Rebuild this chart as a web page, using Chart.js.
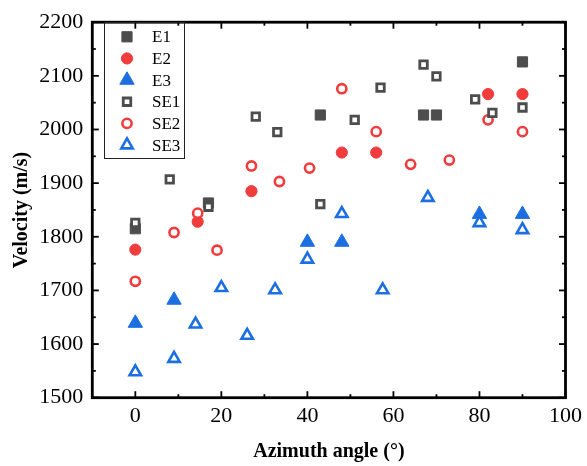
<!DOCTYPE html>
<html><head><meta charset="utf-8">
<script src="https://cdn.jsdelivr.net/npm/chart.js@4/dist/chart.umd.min.js"></script>
<style>html,body{margin:0;padding:0;background:#fff}</style>
</head><body>
<canvas id="c" width="587" height="466" style="width:587px;height:466px;display:block"></canvas>
<script>
const xTicks = [0, 20, 40, 60, 80, 100];
const yTicks = [1500, 1600, 1700, 1800, 1900, 2000, 2100, 2200];
const xMinor = [10, 30, 50, 70, 90];
const yMinor = [1550, 1650, 1750, 1850, 1950, 2050, 2150];

const E1_x = [0, 17, 43, 67, 70, 90];
const E1_y = [1815, 1863, 2027, 2027, 2027, 2126];
const E2_x = [0, 14.5, 27, 48, 56, 82, 90];
const E2_y = [1776, 1828, 1885, 1957, 1957, 2066, 2066];
const E3_x = [0, 9, 40, 48, 80, 90];
const E3_y = [1639, 1682, 1790, 1790, 1842, 1842];
const SE1_x = [0, 8, 17, 28, 33, 43, 51, 57, 67, 70, 79, 83, 90];
const SE1_y = [1826, 1907, 1856, 2024, 1995, 1861, 2018, 2078, 2121, 2099, 2056, 2031, 2041];
const SE2_x = [0, 9, 14.5, 19, 27, 33.5, 40.5, 48, 56, 64, 73, 82, 90];
const SE2_y = [1717, 1808, 1844, 1775, 1932, 1903, 1928, 2076, 1996, 1935, 1943, 2018, 1996];
const SE3_x = [0, 9, 14, 20, 26, 32.5, 40, 48, 57.5, 68, 80, 90];
const SE3_y = [1548, 1573, 1637, 1705, 1616, 1701, 1758, 1843, 1701, 1873, 1826, 1813];

const GRAY = '#4d4d4d', RED = '#f03c3c', BLUE = '#1c6fe0';
const FONT = 'Liberation Serif';

function pts(xs, ys) { return xs.map((x, i) => ({x: x, y: ys[i]})); }

const datasets = [
  {label: 'E1', data: pts(E1_x, E1_y), pointStyle: 'rect', pointRadius: 7.2, backgroundColor: GRAY, borderColor: GRAY, borderWidth: 1, order: 1},
  {label: 'E2', data: pts(E2_x, E2_y), pointStyle: 'circle', pointRadius: 5.6, backgroundColor: RED, borderColor: RED, borderWidth: 1, order: 1},
  {label: 'E3', data: pts(E3_x, E3_y), pointStyle: 'triangle', pointRadius: 8.3, backgroundColor: BLUE, borderColor: BLUE, borderWidth: 1, order: 1},
  {label: 'SE1', data: pts(SE1_x, SE1_y), pointStyle: 'rect', pointRadius: 5.3, backgroundColor: '#fff', borderColor: GRAY, borderWidth: 2.8, order: 0},
  {label: 'SE2', data: pts(SE2_x, SE2_y), pointStyle: 'circle', pointRadius: 4.6, backgroundColor: '#fff', borderColor: RED, borderWidth: 2.6, order: 0},
  {label: 'SE3', data: pts(SE3_x, SE3_y), pointStyle: 'triangle', pointRadius: 6.6, backgroundColor: '#fff', borderColor: BLUE, borderWidth: 2.6, order: 0}
];
datasets.forEach(d => { d.pointHoverRadius = d.pointRadius; d.pointBorderWidth = d.borderWidth; d.showLine = false; });

const framePlugin = {
  id: 'frame',
  afterDatasetsDraw(chart) {
    const ctx = chart.ctx, a = chart.chartArea;
    const xs = chart.scales.x, ys = chart.scales.y;
    ctx.save();
    ctx.strokeStyle = '#000';
    ctx.lineWidth = 1.8;
    const tick = (x1, y1, x2, y2) => { ctx.beginPath(); ctx.moveTo(x1, y1); ctx.lineTo(x2, y2); ctx.stroke(); };
    xTicks.forEach(v => { const p = xs.getPixelForValue(v); tick(p, a.bottom, p, a.bottom - 6.5); tick(p, a.top, p, a.top + 6.5); });
    xMinor.forEach(v => { const p = xs.getPixelForValue(v); tick(p, a.bottom, p, a.bottom - 3.5); tick(p, a.top, p, a.top + 3.5); });
    yTicks.forEach(v => { const p = ys.getPixelForValue(v); tick(a.left, p, a.left + 6.5, p); tick(a.right, p, a.right - 6.5, p); });
    yMinor.forEach(v => { const p = ys.getPixelForValue(v); tick(a.left, p, a.left + 3.5, p); tick(a.right, p, a.right - 3.5, p); });
    ctx.lineWidth = 2.8;
    ctx.strokeRect(a.left, a.top, a.right - a.left, a.bottom - a.top);
    // legend
    ctx.lineWidth = 1;
    ctx.strokeStyle = '#222';
    ctx.strokeRect(104.5, 22.5, 80, 136);
    ctx.font = '17px "' + FONT + '"';
    ctx.textBaseline = 'middle';
    ctx.textAlign = 'left';
    datasets.forEach((d, i) => {
      const y = 36.8 + i * 21.65;
      ctx.fillStyle = d.backgroundColor;
      ctx.strokeStyle = d.borderColor;
      ctx.lineWidth = d.borderWidth;
      Chart.helpers.drawPoint(ctx, {pointStyle: d.pointStyle, radius: d.pointRadius, rotation: 0, borderWidth: d.borderWidth}, 127, y);
      ctx.fillStyle = '#000';
      ctx.fillText(d.label, 152, y + 1);
    });
    ctx.restore();
  }
};

new Chart(document.getElementById('c'), {
  type: 'scatter',
  data: {datasets: datasets},
  options: {
    responsive: false,
    animation: false,
    devicePixelRatio: 1,
    layout: {padding: {left: 0, right: 18, top: 18.5, bottom: 0}},
    plugins: {legend: {display: false}, tooltip: {enabled: false}},
    scales: {
      x: {
        type: 'linear', min: -10, max: 100,
        grid: {display: false, drawTicks: false},
        border: {display: false},
        afterBuildTicks: s => { s.ticks = xTicks.map(v => ({value: v})); },
        afterFit: s => { s.height = 68.3; },
        ticks: {color: '#000', padding: 5, maxRotation: 0, autoSkip: false, callback: v => String(v), font: {family: FONT, size: 22}},
        title: {display: true, text: 'Azimuth angle (°)', color: '#000', padding: {top: 0, bottom: 2}, font: {family: FONT, size: 20, weight: 'bold'}}
      },
      y: {
        type: 'linear', min: 1500, max: 2200,
        grid: {display: false, drawTicks: false},
        border: {display: false},
        afterBuildTicks: s => { s.ticks = yTicks.map(v => ({value: v})); },
        afterFit: s => { s.width = 92.3; },
        ticks: {color: '#000', padding: 9, autoSkip: false, callback: v => String(v), font: {family: FONT, size: 22}},
        title: {display: true, text: 'Velocity (m/s)', color: '#000', padding: {top: 10, bottom: 0}, font: {family: FONT, size: 20, weight: 'bold'}}
      }
    }
  },
  plugins: [framePlugin]
});
</script>
</body></html>
